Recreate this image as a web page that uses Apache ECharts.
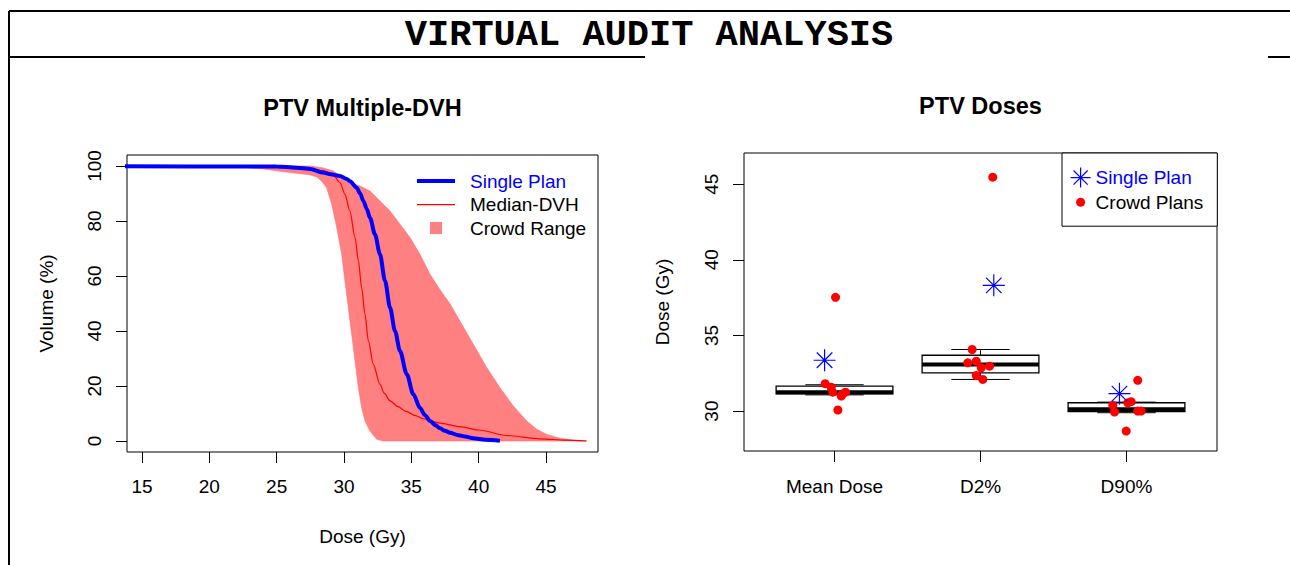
<!DOCTYPE html>
<html><head><meta charset="utf-8">
<script src="https://cdn.jsdelivr.net/npm/echarts@6/dist/echarts.min.js"></script>
<style>html,body{margin:0;padding:0;background:#fff}#c{width:1290px;height:565px}</style>
</head><body><div id="c"></div>
<script>
// ---- tick labels / categories ----
const xTicksDVH = [15, 20, 25, 30, 35, 40, 45];
const yTicksDVH = [0, 20, 40, 60, 80, 100];
const yTicksDose = [30, 35, 40, 45];
const doseCategories = ['Mean Dose', 'D2%', 'D90%'];
const categoryPos = [1, 2, 3];

// ---- DVH curves (Dose Gy, Volume %) ----
const singleDose = [10, 25.0, 26.5, 27.5, 28.46, 29.0, 29.7, 30.2, 30.44, 30.94, 31.2, 31.44, 31.7, 31.93, 32.3, 32.67, 33.05, 33.42, 33.79, 34.16, 34.66, 35.15, 35.64, 36.0, 36.39, 36.8, 37.13, 37.5, 37.87, 38.5, 39.0, 39.6, 40.5, 41.58];
const singleVol  = [100, 99.8, 99.4, 98.9, 97.6, 97.0, 96.4, 95.3, 94.5, 92.1, 90.0, 87.3, 84.3, 81.2, 75.2, 67.9, 58.2, 48.5, 40.0, 32.7, 24.3, 17.0, 12.1, 9.5, 7.3, 5.7, 4.6, 3.7, 3.0, 2.1, 1.6, 1.0, 0.5, 0.1];

const medianDose = [10, 24.0, 26.0, 27.5, 28.5, 29.2, 29.7, 30.07, 30.44, 30.82, 31.07, 31.31, 31.56, 31.81, 32.18, 32.67, 33.0, 33.42, 34.0, 34.6, 35.3, 35.89, 37.13, 38.6, 40.0, 42.08, 44.55, 46.5, 48.0];
const medianVol  = [100, 100, 99.7, 99.1, 98.2, 96.7, 94.0, 89.7, 83.6, 74.0, 65.5, 55.8, 46.1, 36.4, 27.9, 20.6, 17.3, 14.6, 12.5, 10.8, 9.2, 8.1, 6.5, 5.2, 4.0, 2.0, 0.8, 0.3, 0.0];

const crowdLowDose = [21.5, 24.0, 26.0, 27.47, 28.0, 28.34, 28.71, 29.09, 29.46, 29.83, 30.07, 30.32, 30.57, 30.82, 31.07, 31.31, 31.56, 31.93, 32.43, 32.92];
const crowdLowVol  = [100, 98.9, 97.6, 96.8, 96.0, 94.5, 92.1, 86.1, 77.6, 67.9, 58.2, 48.5, 38.8, 29.1, 19.4, 12.1, 7.3, 3.6, 0.6, 0];
const crowdHighDose = [21.5, 27.5, 28.46, 29.2, 29.94, 30.68, 31.18, 31.93, 32.67, 33.42, 34.16, 34.9, 35.64, 36.39, 37.13, 37.87, 38.61, 39.6, 40.6, 41.58, 42.57, 43.57, 44.31, 45.05, 46.04, 47.03, 48.02];
const crowdHighVol  = [100, 100, 99.3, 98.2, 95.8, 93.6, 92.7, 90.9, 87.3, 83.6, 78.8, 74.0, 67.9, 60.6, 55.0, 49.9, 43.6, 35.2, 26.7, 19.4, 12.7, 7.3, 4.3, 2.4, 1.0, 0.25, 0];

// ---- PTV doses boxplot stats (Gy) ----
const boxLow  = [31.07, 32.09, 29.89];
const boxQ1   = [31.13, 32.53, 29.96];
const boxMed  = [31.25, 33.08, 30.12];
const boxQ3   = [31.65, 33.69, 30.55];
const boxHigh = [31.74, 34.07, 30.59];

// crowd plans (jittered position, dose)
const crowdX = [1.007, 0.936, 0.977, 0.988, 1.046, 1.075, 1.055, 1.023,
                2.084, 1.943, 1.913, 1.971, 2.005, 2.062, 1.971, 2.016,
                3.077, 2.906, 2.918, 3.009, 3.032, 3.077, 3.100, 2.998];
const crowdY = [37.52, 31.81, 31.58, 31.25, 30.99, 31.25, 31.12, 30.07,
                45.46, 34.07, 33.19, 33.30, 32.86, 32.97, 32.35, 32.09,
                32.03, 30.38, 29.93, 30.55, 30.62, 30.00, 30.00, 28.68];
// single plan
const singleX = [0.932, 2.091, 2.952];
const singleY = [33.36, 38.31, 31.15];

// ---- build ----
const FONT = '"Liberation Sans", Arial, sans-serif';
const zip = (a, b) => a.map((v, i) => [v, b[i]]);
const bandPts = zip(crowdLowDose, crowdLowVol).concat(zip(crowdHighDose, crowdHighVol).reverse());
const boxData = categoryPos.map((p, i) => [p, boxLow[i], boxQ1[i], boxMed[i], boxQ3[i], boxHigh[i]]);
const txt = { fontSize: 19, color: '#000', fontFamily: FONT };
const tickStyle = { color: '#000', width: 1 };
const STAR = 'path://M10,0V20M0,10H20M2.93,2.93L17.07,17.07M2.93,17.07L17.07,2.93';

const chart = echarts.init(document.getElementById('c'), null, { renderer: 'svg' });
chart.setOption({
  animation: false,
  backgroundColor: '#fff',
  title: [
    { text: 'PTV Multiple-DVH', left: 362.5, top: 96, textAlign: 'center', padding: 0,
      textStyle: { fontSize: 23.5, fontWeight: 'bold', color: '#000', fontFamily: FONT } },
    { text: 'PTV Doses', left: 980.5, top: 93.5, textAlign: 'center', padding: 0,
      textStyle: { fontSize: 23.5, fontWeight: 'bold', color: '#000', fontFamily: FONT } }
  ],
  graphic: [
    { type: 'line', shape: { x1: 9, y1: 11, x2: 1290, y2: 11 }, style: { stroke: '#000', lineWidth: 2 } },
    { type: 'line', shape: { x1: 9, y1: 11, x2: 9, y2: 565 }, style: { stroke: '#000', lineWidth: 2 } },
    { type: 'line', shape: { x1: 9, y1: 57, x2: 645, y2: 57 }, style: { stroke: '#000', lineWidth: 2 } },
    { type: 'line', shape: { x1: 1268, y1: 57, x2: 1290, y2: 57 }, style: { stroke: '#000', lineWidth: 2 } },
    { type: 'text', x: 649, y: 35, style: { text: 'VIRTUAL AUDIT ANALYSIS', fill: '#000',
      font: 'bold 37px "Liberation Mono", "Courier New", monospace', align: 'center', verticalAlign: 'middle',
      textAlign: 'center', textVerticalAlign: 'middle' } }
  ],
  legend: [
    { orient: 'vertical', left: 417, top: 171.5, padding: 0, itemWidth: 48, itemHeight: 12, itemGap: 4.5,
      selectedMode: false, textStyle: Object.assign({ lineHeight: 19 }, txt),
      itemStyle: { borderWidth: 0 },
      data: [
        { name: 'Single Plan', icon: 'path://M0,0M48,12M0,4H38V8H0Z', itemStyle: { color: '#0000ff', borderWidth: 0 }, textStyle: { color: '#0000ff' } },
        { name: 'Median-DVH', icon: 'path://M0,0M48,12M0,5.5H38V6.7H0Z', itemStyle: { color: '#ff0000', borderWidth: 0 } },
        { name: 'Crowd Range', icon: 'path://M0,0M48,12M13,0H25V12H13Z', itemStyle: { color: '#ff8080', borderWidth: 0 } }
      ] },
    { orient: 'vertical', left: 1062, top: 153, padding: [14, 14, 14, 8], itemWidth: 20, itemHeight: 20, itemGap: 4,
      selectedMode: false, borderColor: '#000', borderWidth: 1, backgroundColor: '#fff',
      textStyle: Object.assign({ lineHeight: 20 }, txt),
      data: [
        { name: 'Single Plan', icon: STAR, itemStyle: { color: 'transparent', borderColor: '#0000ff', borderWidth: 1.2, opacity: 1 }, textStyle: { color: '#0000ff' } },
        { name: 'Crowd Plans', icon: 'path://M0,0M20,20M14.5,10A4.5,4.5,0,1,1,5.5,10A4.5,4.5,0,1,1,14.5,10Z', itemStyle: { color: '#ff0000', borderWidth: 0, opacity: 1 } }
      ] }
  ],
  grid: [
    { left: 127, top: 155, width: 471, height: 297, show: true, borderColor: '#000', borderWidth: 1, backgroundColor: 'transparent' },
    { left: 744, top: 153, width: 473, height: 298, show: true, borderColor: '#000', borderWidth: 1, backgroundColor: 'transparent' }
  ],
  xAxis: [
    { gridIndex: 0, type: 'value', min: 13.89, max: 48.86,
      name: 'Dose (Gy)', nameLocation: 'middle', nameGap: 75, nameTextStyle: txt,
      axisLine: { show: false, onZero: false },
      axisTick: { show: true, length: 11, customValues: xTicksDVH, lineStyle: tickStyle },
      axisLabel: { customValues: xTicksDVH, margin: 25, ...txt },
      splitLine: { show: false } },
    { gridIndex: 1, type: 'value', min: 0.38, max: 3.62,
      axisLine: { show: false, onZero: false },
      axisTick: { show: true, length: 11, customValues: categoryPos, lineStyle: tickStyle },
      axisLabel: { customValues: categoryPos, margin: 26, formatter: v => doseCategories[Math.round(v) - 1], ...txt },
      splitLine: { show: false } }
  ],
  yAxis: [
    { gridIndex: 0, type: 'value', min: -4, max: 104,
      name: 'Volume (%)', nameLocation: 'middle', nameGap: 71, nameRotate: 90, nameTextStyle: txt,
      axisLine: { show: false, onZero: false },
      axisTick: { show: true, length: 11, customValues: yTicksDVH, lineStyle: tickStyle },
      axisLabel: { customValues: yTicksDVH, rotate: 90, margin: 23, ...txt },
      splitLine: { show: false } },
    { gridIndex: 1, type: 'value', min: 27.36, max: 47.06,
      name: 'Dose (Gy)', nameLocation: 'middle', nameGap: 72, nameRotate: 90, nameTextStyle: txt,
      axisLine: { show: false, onZero: false },
      axisTick: { show: true, length: 11, customValues: yTicksDose, lineStyle: tickStyle },
      axisLabel: { customValues: yTicksDose, rotate: 90, margin: 23, ...txt },
      splitLine: { show: false } }
  ],
  series: [
    { name: 'Crowd Range', type: 'custom', xAxisIndex: 0, yAxisIndex: 0, silent: true,
      itemStyle: { color: '#ff8080' },
      data: [[crowdLowDose[0], crowdLowVol[0]]],
      renderItem: function (params, api) {
        return { type: 'polygon', shape: { points: bandPts.map(p => api.coord(p)) },
                 style: { fill: '#ff8080', stroke: '#ff7070', lineWidth: 0.6 } };
      } },
    { name: 'Median-DVH', type: 'line', xAxisIndex: 0, yAxisIndex: 0, silent: true,
      data: zip(medianDose, medianVol), showSymbol: false, symbol: 'none',
      smooth: 0.3, smoothMonotone: 'x', clip: true,
      lineStyle: { color: '#ff0000', width: 1.2 }, itemStyle: { color: '#ff0000' } },
    { name: 'Single Plan', type: 'line', xAxisIndex: 0, yAxisIndex: 0, silent: true,
      data: zip(singleDose, singleVol), showSymbol: false, symbol: 'none',
      smooth: 0.3, smoothMonotone: 'x', clip: true,
      lineStyle: { color: '#0000ff', width: 4 }, itemStyle: { color: '#0000ff' } },
    { name: 'Box', type: 'custom', xAxisIndex: 1, yAxisIndex: 1, silent: true,
      data: boxData, encode: { x: 0, y: [1, 2, 3, 4, 5] },
      renderItem: function (params, api) {
        const x = api.value(0), lo = api.value(1), q1 = api.value(2), md = api.value(3), q3 = api.value(4), hi = api.value(5);
        const tl = api.coord([x - 0.4, q3]), br = api.coord([x + 0.4, q1]);
        const line = (a, b, w, dash) => ({ type: 'line', shape: { x1: a[0], y1: a[1], x2: b[0], y2: b[1] },
          style: { stroke: '#000', lineWidth: w, lineDash: dash || null } });
        return { type: 'group', children: [
          line(api.coord([x, q3]), api.coord([x, hi]), 1, [5, 4]),
          line(api.coord([x, q1]), api.coord([x, lo]), 1, [5, 4]),
          line(api.coord([x - 0.2, hi]), api.coord([x + 0.2, hi]), 1),
          line(api.coord([x - 0.2, lo]), api.coord([x + 0.2, lo]), 1),
          { type: 'rect', shape: { x: tl[0], y: tl[1], width: br[0] - tl[0], height: br[1] - tl[1] },
            style: { fill: '#fff', stroke: '#000', lineWidth: 1.3 } },
          line(api.coord([x - 0.4, md]), api.coord([x + 0.4, md]), 4)
        ] };
      } },
    { name: 'Crowd Plans', type: 'scatter', xAxisIndex: 1, yAxisIndex: 1, silent: true,
      data: zip(crowdX, crowdY), symbol: 'circle', symbolSize: 9,
      itemStyle: { color: '#ff0000', opacity: 1 } },
    { name: 'Single Plan', type: 'scatter', xAxisIndex: 1, yAxisIndex: 1, silent: true,
      data: zip(singleX, singleY), symbol: STAR, symbolSize: 22,
      itemStyle: { color: 'transparent', borderColor: '#0000ff', borderWidth: 1.2, opacity: 1 } }
  ]
});
</script></body></html>
